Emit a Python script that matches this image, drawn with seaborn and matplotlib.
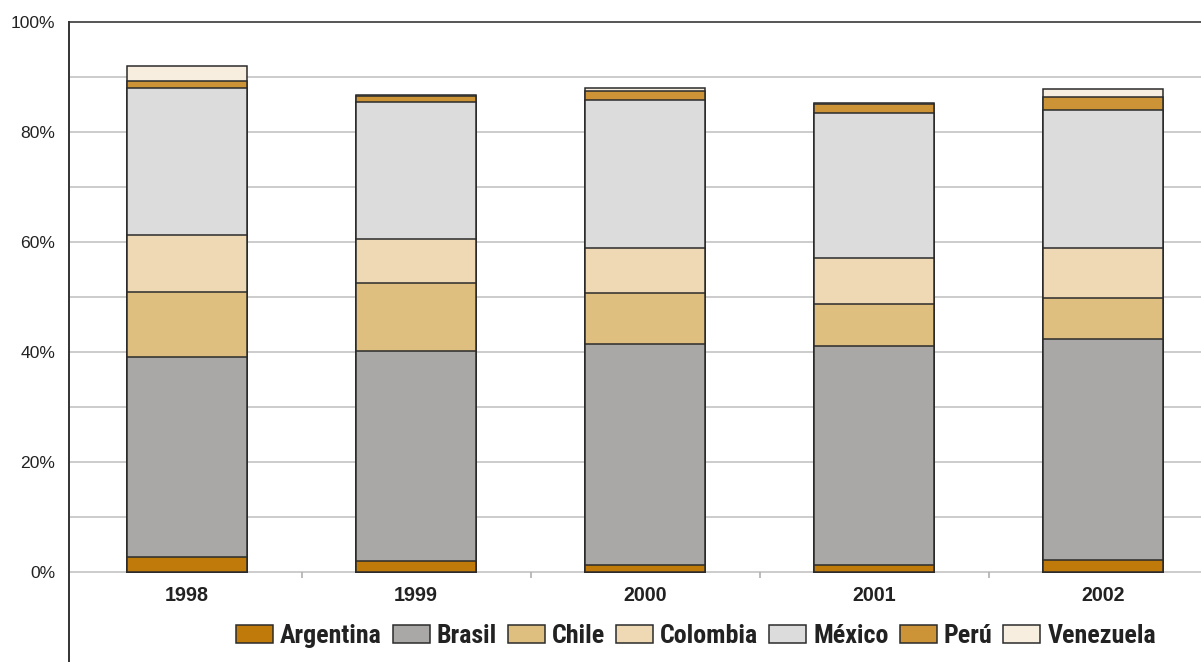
import numpy as np
import pandas as pd
import matplotlib
matplotlib.use('Agg')
import matplotlib.pyplot as plt
from matplotlib import font_manager as fm
from matplotlib.patches import Patch
import seaborn as sns

years = ['1998', '1999', '2000', '2001', '2002']
countries = ['Argentina', 'Brasil', 'Chile', 'Colombia', 'México', 'Perú', 'Venezuela']
colors = ['#C07A0A', '#A9A8A6', '#DFBF80', '#EFD9B4', '#DCDCDC', '#CC9436', '#F7EEDF']

argentina = [2.7, 2.0, 1.3, 1.3, 2.2]
brasil = [36.4, 38.2, 40.2, 39.8, 40.2]
chile = [11.8, 12.3, 9.2, 7.6, 7.4]
colombia = [10.4, 8.0, 8.2, 8.4, 9.1]
mexico = [26.7, 25.0, 26.9, 26.4, 25.1]
peru = [1.3, 1.0, 1.7, 1.6, 2.4]
venezuela = [2.7, 0.2, 0.5, 0.2, 1.4]

df = pd.DataFrame({'Año': years, 'Argentina': argentina, 'Brasil': brasil, 'Chile': chile,
                   'Colombia': colombia, 'México': mexico, 'Perú': peru, 'Venezuela': venezuela})
cum = df[countries].cumsum(axis=1)
cum['Año'] = years

sns.set_style('white')

# narrow font for the legend, if one is around
installed = {f.name for f in fm.fontManager.ttflist}
narrow = 'DejaVu Sans'
for cand in ['Roboto Condensed', 'Liberation Sans Narrow', 'Open Sans Condensed', 'DejaVu Sans Condensed']:
    if cand in installed:
        narrow = cand
        break
plt.rcParams['font.family'] = ['Liberation Sans', 'DejaVu Sans']

fig = plt.figure(figsize=(12.01, 6.62), dpi=100)
ax = fig.add_axes([69 / 1201, 0, (1201 - 69) / 1201, 640 / 662])

# gridlines
for g in range(0, 100, 10):
    ax.axhline(g, color='#c8c8c8', lw=1.3, zorder=0)
ax.axhline(100, color='#555555', lw=1.4, zorder=0, clip_on=False)

# stacked bars: draw the cumulative totals from the top layer down
for c, col in reversed(list(zip(countries, colors))):
    sns.barplot(data=cum, x='Año', y=c, color=col, width=0.52, edgecolor='#2b2b2b',
                linewidth=1.1, saturation=1, ax=ax, zorder=2)

ax.set_xlim(-(187 - 69) / 229, (1201 - 187) / 229)
ax.set_ylim(-16.36, 100)

# category separator ticks under the zero line
ax.vlines(np.arange(0.5, len(years) - 0.5), -1.1, 0, color='#b0b0b0', lw=1.2)

ax.set_yticks(range(0, 101, 20))
ax.set_yticklabels([f'{v}%' for v in range(0, 101, 20)], fontsize=12.6, color='#222')
ax.tick_params(axis='y', length=0, pad=10)
ax.set_xticks([])
ax.set_xlabel('')
ax.set_ylabel('')
for i, y in enumerate(years):
    ax.text(i, -4.27, y, ha='center', va='center', fontsize=14.2, fontweight='bold', color='#222')

for s in ['top', 'right', 'bottom']:
    ax.spines[s].set_visible(False)
ax.spines['left'].set_color('#333')
ax.spines['left'].set_linewidth(1.4)

handles = [Patch(facecolor=col, edgecolor='#2b2b2b', lw=1.1, label=c) for c, col in zip(countries, colors)]
renderer = fig.canvas.get_renderer()
size = 19
while True:
    em = size * 100 / 72
    leg = fig.legend(handles=handles, loc='center', bbox_to_anchor=(696 / 1201, 1 - 636 / 662), ncol=7,
                     frameon=False, handlelength=37 / em, handleheight=18 / em,
                     handletextpad=7 / em, columnspacing=11 / em,
                     prop={'family': [narrow, 'DejaVu Sans'], 'size': size, 'weight': 'bold'})
    if leg.get_window_extent(renderer).width <= 945 or size <= 10:
        break
    leg.remove()
    size -= 0.25
for t in leg.get_texts():
    t.set_color('#222')

fig.savefig('out.png', dpi=100)
